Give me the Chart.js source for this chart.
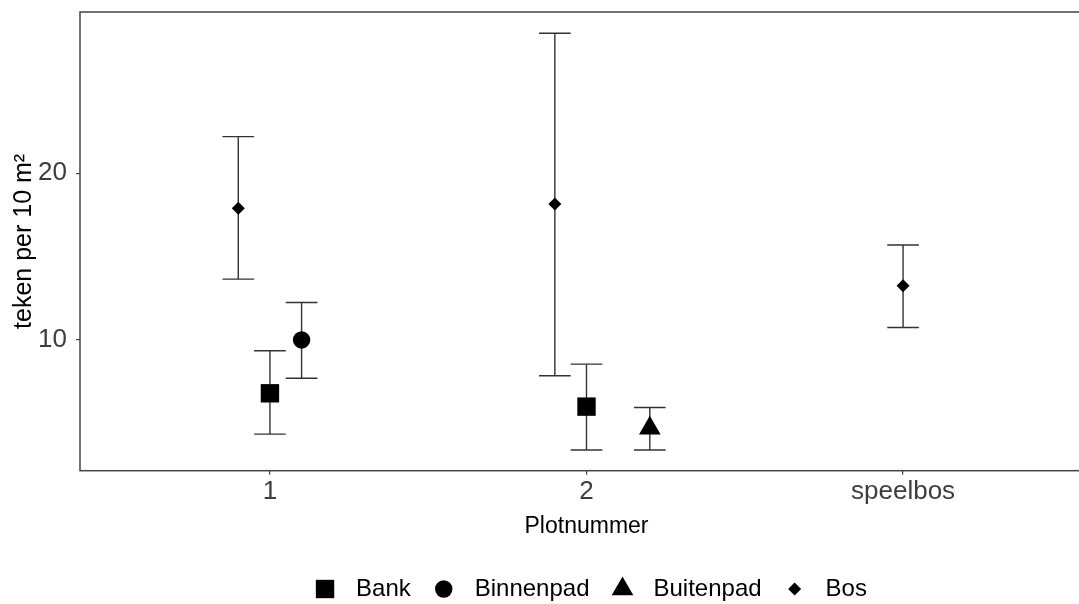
<!DOCTYPE html>
<html>
<head>
<meta charset="utf-8">
<script src="https://cdn.jsdelivr.net/npm/chart.js@4/dist/chart.umd.min.js"></script>
<style>
html,body{margin:0;padding:0;background:#fff;overflow:hidden;width:1079px;height:604px}
#wrap{width:1079px;height:604px;overflow:hidden;position:relative;background:#fff}
canvas{position:absolute;left:0;top:0}
</style>
</head>
<body>
<div id="wrap"><canvas id="c" width="1094" height="611"></canvas></div>
<script>
// ---- data ----
const categories = ['1', '2', 'speelbos'];
const seriesNames = ['Bank', 'Binnenpad', 'Buitenpad', 'Bos'];

const bankMean  = [6.8, 6.0, null];
const bankLow   = [4.35, 3.4, null];
const bankHigh  = [9.35, 8.55, null];

const binnenMean = [10.0, null, null];
const binnenLow  = [7.7, null, null];
const binnenHigh = [12.25, null, null];

const buitenMean = [null, 4.7, null];
const buitenLow  = [null, 3.4, null];
const buitenHigh = [null, 5.95, null];

const bosMean = [17.9, 18.15, 13.25];
const bosLow  = [13.65, 7.85, 10.75];
const bosHigh = [22.2, 28.4, 15.7];

const yTicks = [10, 20];

// dodge offsets (fraction of category spacing) per series per category
const dodge = {
  Bank:      [0, 0, 0],
  Binnenpad: [0.1, 0.1, 0.1],
  Buitenpad: [0.2, 0.2, 0.2],
  Bos:       [-0.1, -0.1, 0]
};
const capHalf = 0.05;

// marker styles
const markers = {
  Bank:      {style: 'rect',     radius: 13},
  Binnenpad: {style: 'circle',   radius: 8.7},
  Buitenpad: {style: 'triangle', radius: 12.5},
  Bos:       {style: 'rectRot',  radius: 6.5}
};

const seriesData = {
  Bank:      {mean: bankMean,   low: bankLow,   high: bankHigh},
  Binnenpad: {mean: binnenMean, low: binnenLow, high: binnenHigh},
  Buitenpad: {mean: buitenMean, low: buitenLow, high: buitenHigh},
  Bos:       {mean: bosMean,    low: bosLow,    high: bosHigh}
};

const datasets = seriesNames.map(name => {
  const s = seriesData[name];
  const pts = [], lows = [], highs = [];
  categories.forEach((c, i) => {
    if (s.mean[i] == null) return;
    pts.push({x: i + dodge[name][i], y: s.mean[i]});
    lows.push(s.low[i]);
    highs.push(s.high[i]);
  });
  return {
    label: name,
    data: pts,
    errLow: lows,
    errHigh: highs,
    pointStyle: markers[name].style,
    pointRadius: markers[name].radius,
    backgroundColor: '#000',
    borderColor: '#000',
    borderWidth: 0,
    showLine: false,
    clip: false
  };
});

const FONT = "'Liberation Sans', Arial, sans-serif";

function drawMarker(ctx, style, radius, x, y) {
  ctx.save();
  ctx.fillStyle = '#000';
  ctx.strokeStyle = '#000';
  if (Chart.helpers && Chart.helpers.drawPoint) {
    Chart.helpers.drawPoint(ctx, {pointStyle: style, radius: radius, rotation: 0, borderWidth: 0}, x, y);
  } else {
    ctx.beginPath();
    if (style === 'circle') {
      ctx.arc(x, y, radius, 0, Math.PI * 2);
    } else if (style === 'rect') {
      const s = radius * Math.SQRT1_2;
      ctx.rect(x - s, y - s, 2 * s, 2 * s);
    } else if (style === 'triangle') {
      let a = 0;
      ctx.moveTo(x + Math.sin(a) * radius, y - Math.cos(a) * radius);
      a += 2 * Math.PI / 3;
      ctx.lineTo(x + Math.sin(a) * radius, y - Math.cos(a) * radius);
      a += 2 * Math.PI / 3;
      ctx.lineTo(x + Math.sin(a) * radius, y - Math.cos(a) * radius);
      ctx.closePath();
    } else {
      ctx.moveTo(x, y - radius); ctx.lineTo(x + radius, y);
      ctx.lineTo(x, y + radius); ctx.lineTo(x - radius, y); ctx.closePath();
    }
    ctx.fill();
  }
  ctx.restore();
}

const errorBarPlugin = {
  id: 'errorBars',
  beforeDatasetsDraw(chart) {
    const {ctx, chartArea: a, scales: {x, y}} = chart;
    // panel border
    ctx.save();
    ctx.strokeStyle = '#444';
    ctx.lineWidth = 1.5;
    ctx.strokeRect(a.left, a.top, a.right - a.left, a.bottom - a.top);
    ctx.restore();
    // error bars
    ctx.save();
    ctx.strokeStyle = '#333';
    ctx.lineWidth = 1.4;
    chart.data.datasets.forEach(ds => {
      ds.data.forEach((p, i) => {
        const xc = x.getPixelForValue(p.x);
        const xl = x.getPixelForValue(p.x - capHalf);
        const xr = x.getPixelForValue(p.x + capHalf);
        const yl = y.getPixelForValue(ds.errLow[i]);
        const yh = y.getPixelForValue(ds.errHigh[i]);
        ctx.beginPath();
        ctx.moveTo(xc, yl); ctx.lineTo(xc, yh);
        ctx.moveTo(xl, yl); ctx.lineTo(xr, yl);
        ctx.moveTo(xl, yh); ctx.lineTo(xr, yh);
        ctx.stroke();
      });
    });
    ctx.restore();
  },
  afterDraw(chart) {
    // legend markers sized like the plotted points
    const lg = chart.legend;
    if (!lg || !lg.legendHitBoxes) return;
    const bw = lg.options.labels.boxWidth;
    lg.legendItems.forEach((item, i) => {
      const hb = lg.legendHitBoxes[i];
      const m = markers[item.text];
      drawMarker(chart.ctx, m.style, m.radius, hb.left + bw / 2, hb.top + hb.height / 2);
    });
  }
};

new Chart(document.getElementById('c'), {
  type: 'scatter',
  data: {datasets},
  plugins: [errorBarPlugin],
  options: {
    responsive: false,
    animation: false,
    devicePixelRatio: 1,
    events: [],
    layout: {autoPadding: false, padding: {top: 12, right: 1, left: 0, bottom: 0}},
    plugins: {
      tooltip: {enabled: false},
      legend: {
        display: true,
        position: 'bottom',
        fullSize: false,
        labels: {
          font: {family: FONT, size: 24},
          color: '#000',
          boxWidth: 38,
          boxHeight: 0,
          padding: 14,
          generateLabels(chart) {
            return chart.data.datasets.map((ds, i) => ({
              text: ds.label,
              fillStyle: 'rgba(0,0,0,0)',
              strokeStyle: 'rgba(0,0,0,0)',
              lineWidth: 0,
              hidden: false,
              datasetIndex: i,
              fontColor: '#000'
            }));
          }
        }
      }
    },
    scales: {
      x: {
        type: 'linear',
        min: -0.6,
        max: 2.6,
        afterBuildTicks(scale) { scale.ticks = categories.map((c, i) => ({value: i})); },
        afterFit(scale) { scale.height = 92.3; scale.paddingLeft = 0; scale.paddingRight = 0; },
        ticks: {
          autoSkip: false,
          callback: (v) => categories[v] !== undefined ? categories[v] : '',
          font: {family: FONT, size: 26},
          color: '#3d3d3d',
          padding: 2,
          maxRotation: 0
        },
        grid: {display: true, drawOnChartArea: false, drawTicks: true, tickLength: 4, color: '#444', lineWidth: 1.2},
        border: {display: false},
        title: {
          display: true,
          text: 'Plotnummer',
          font: {family: FONT, size: 23},
          color: '#000',
          padding: {top: 0, bottom: 23}
        }
      },
      y: {
        type: 'linear',
        min: 2.156,
        max: 29.676,
        afterBuildTicks(scale) { scale.ticks = yTicks.map(v => ({value: v})); },
        afterFit(scale) { scale.width = 80; scale.paddingTop = 0; scale.paddingBottom = 0; },
        ticks: {
          font: {family: FONT, size: 26},
          color: '#3d3d3d',
          padding: 9
        },
        grid: {display: true, drawOnChartArea: false, drawTicks: true, tickLength: 4, color: '#444', lineWidth: 1.2},
        border: {display: false},
        title: {
          display: true,
          text: 'teken per 10 m²',
          font: {family: FONT, size: 25},
          color: '#000',
          padding: {top: 9, bottom: 0}
        }
      }
    }
  }
});
</script>
</body>
</html>
